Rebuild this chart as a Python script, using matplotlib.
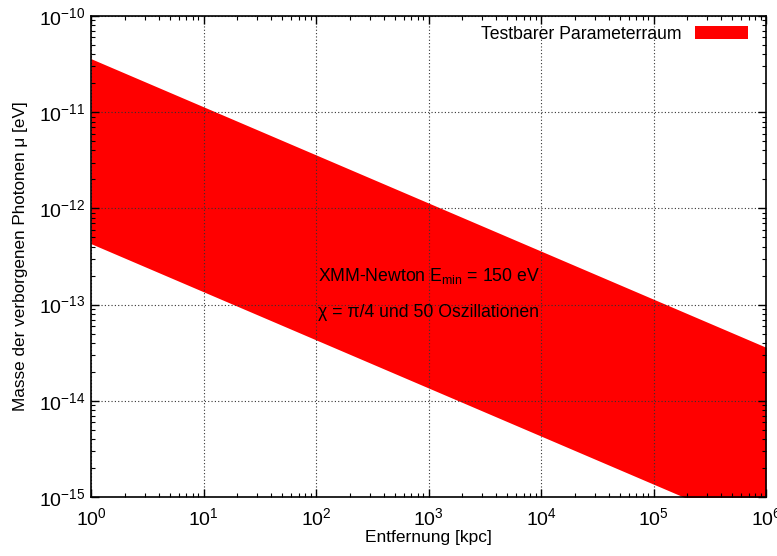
import numpy as np
import matplotlib.pyplot as plt
from matplotlib.ticker import LogLocator, NullFormatter

plt.rcParams['font.family'] = ['Liberation Sans', 'DejaVu Sans']
plt.rcParams['mathtext.fontset'] = 'custom'
plt.rcParams['mathtext.rm'] = 'Liberation Sans'
plt.rcParams['mathtext.it'] = 'Liberation Sans'

# Band edges (distance in kpc, mass in eV)
entfernung = np.array([1.0, 1e6])
masse_oben = np.array([3.6e-11, 3.6e-14])
masse_unten = np.array([4.3e-13, 4.3e-16])

fig = plt.figure(figsize=(7.77, 5.56), dpi=100)
ax = fig.add_axes([91 / 777, 1 - 497 / 556, 675 / 777, 481 / 556])

ax.fill_between(entfernung, masse_unten, masse_oben, color='#ff0000',
                linewidth=0, label='Testbarer Parameterraum', zorder=1)

ax.set_xscale('log')
ax.set_yscale('log')
ax.set_xlim(1, 1e6)
ax.set_ylim(1e-15, 1e-10)

ax.grid(True, which='major', linestyle=(0, (1, 2)), color='#333333', linewidth=0.8, zorder=2)
ax.set_axisbelow(False)

ax.xaxis.set_major_locator(LogLocator(base=10, numticks=10))
ax.yaxis.set_major_locator(LogLocator(base=10, numticks=10))
ax.xaxis.set_minor_locator(LogLocator(base=10, subs=np.arange(2, 10), numticks=20))
ax.yaxis.set_minor_locator(LogLocator(base=10, subs=np.arange(2, 10), numticks=20))
ax.xaxis.set_minor_formatter(NullFormatter())
ax.yaxis.set_minor_formatter(NullFormatter())
ax.tick_params(which='both', direction='in', top=True, right=True, labelsize=14)
ax.tick_params(which='major', length=6, width=1)
ax.tick_params(which='minor', length=3, width=0.8)
ax.tick_params(axis='x', pad=7)
ax.tick_params(axis='y', pad=4)
for s in ax.spines.values():
    s.set_linewidth(1.2)
    s.set_zorder(5)

ax.set_xlabel('Entfernung [kpc]', fontsize=12.5, labelpad=1)
ax.set_ylabel('Masse der verborgenen Photonen μ [eV]', fontsize=12.3, labelpad=8)

ax.text(105, 2.0e-13, r'XMM-Newton E$_{\rm min}$ = 150 eV', fontsize=12.7, va='center', zorder=6)
ax.text(105, 8.2e-14, 'χ = π/4 und 50 Oszillationen', fontsize=12.7, va='center', zorder=6)

leg = ax.legend(loc='upper right', bbox_to_anchor=(0.988, 1.0), frameon=False,
                markerfirst=False, fontsize=12.7, handlelength=3.0, handleheight=0.7,
                borderaxespad=0.15, handletextpad=0.8)

fig.savefig('out.png', dpi=100)
